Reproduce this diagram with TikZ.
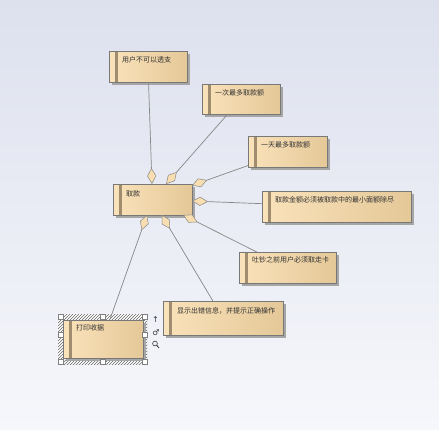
\documentclass[tikz,border=0pt]{standalone}
\usepackage{fontspec}
\newfontfamily\cjk{Noto Sans CJK SC}
\newfontfamily\symf{DejaVu Sans}
\usetikzlibrary{arrows.meta,shadows,patterns}
\definecolor{bgtop}{RGB}{221,225,238}
\definecolor{bgbot}{RGB}{246,247,251}
\definecolor{boxl}{RGB}{250,226,186}
\definecolor{boxr}{RGB}{228,200,152}
\definecolor{boxborder}{RGB}{120,120,120}
\definecolor{stripecol}{RGB}{160,140,110}
\definecolor{linecol}{RGB}{135,135,135}
\definecolor{diamfill}{RGB}{248,222,176}
\definecolor{txt}{RGB}{50,50,50}
\begin{document}
\begin{tikzpicture}[x=1pt,y=-1pt,
 reqbox/.style={rectangle, draw=boxborder, line width=0.7pt, left color=boxl, right color=boxr,
   anchor=north west, inner sep=0pt, outer sep=0pt,
   general shadow={shadow xshift=2.5pt, shadow yshift=-2.5pt, fill=black!35},
   path picture={\fill[stripecol] ([xshift=6pt]path picture bounding box.north west) rectangle ([xshift=8.5pt]path picture bounding box.south west);}},
 lbl/.style={font=\cjk\fontsize{7}{8}\selectfont, text=txt, anchor=west, inner sep=0pt},
 conn/.style={draw=linecol, line width=0.7pt, -{Diamond[length=16pt,width=9pt,fill=diamfill,line width=0.5pt]}},
 handle/.style={draw=gray, fill=white, line width=0.5pt, minimum size=5pt, inner sep=0pt, rectangle},
 icon/.style={font=\symf\fontsize{8}{8}\selectfont, text=black!80, inner sep=0pt}]
\useasboundingbox (0,0) rectangle (439,429);
\fill[top color=bgtop, bottom color=bgbot] (0,0) rectangle (439,429);

% selection hatch around 打印收据
\fill[white] (58,314) rectangle (147,364);
\fill[pattern=north east lines, pattern color=black!60] (58,314) rectangle (147,364);

\node[reqbox, minimum width=78pt, minimum height=31pt] (b1) at (109,51) {};
\node[lbl] at ([xshift=13pt,yshift=-9pt]b1.north west) {用户不可以透支};
\node[reqbox, minimum width=78pt, minimum height=30pt] (b2) at (202,84) {};
\node[lbl] at ([xshift=13pt,yshift=-9pt]b2.north west) {一次最多取款额};
\node[reqbox, minimum width=79pt, minimum height=31pt] (b3) at (248,136) {};
\node[lbl] at ([xshift=13pt,yshift=-9pt]b3.north west) {一天最多取款额};
\node[reqbox, minimum width=79pt, minimum height=31pt] (qk) at (113,184) {};
\node[lbl] at ([xshift=13pt,yshift=-10pt]qk.north west) {取款};
\node[reqbox, minimum width=149pt, minimum height=31pt] (b5) at (262,191) {};
\node[lbl] at ([xshift=13pt,yshift=-9pt]b5.north west) {取款金额必须被取款中的最小面额除尽};
\node[reqbox, minimum width=97pt, minimum height=31pt] (b6) at (239,252) {};
\node[lbl] at ([xshift=13pt,yshift=-8pt]b6.north west) {吐钞之前用户必须取走卡};
\node[reqbox, minimum width=80pt, minimum height=38pt] (b7) at (63,320) {};
\node[lbl] at ([xshift=13pt,yshift=-7.5pt]b7.north west) {打印收据};
\node[reqbox, minimum width=120pt, minimum height=34pt] (b8) at (163,301) {};
\node[lbl] at ([xshift=14pt,yshift=-9.5pt]b8.north west) {显示出错信息，并提示正确操作};

\draw[conn] (b1) -- (qk);
\draw[conn] (b2) -- (qk);
\draw[conn] (b3) -- (qk);
\draw[conn] (b5) -- (qk);
\draw[conn] (b6) -- (qk);
\draw[conn] (b8) -- (qk);
\draw[conn] (b7) -- (qk);

% selection handles
\foreach \hx/\hy [count=\i] in {61/316.5,103/316.5,145/316.5,61/334.5,145/334.5,61/361.5,103/361.5,145/361.5}
  \node[handle] (h\i) at (\hx,\hy) {};

% toolbar icons
\node[icon] (up) at (155.5,320) {↑};
\node[icon] (lnk) at (156,333) {♂};
\coordinate (mg) at (155,343.5);
\draw[black!80, line width=0.6pt] (mg) circle (2.4pt);
\draw[black!80, line width=0.8pt] ([xshift=1.7pt,yshift=-1.7pt]mg) -- ([xshift=4pt,yshift=-4.5pt]mg);
\end{tikzpicture}
\end{document}
